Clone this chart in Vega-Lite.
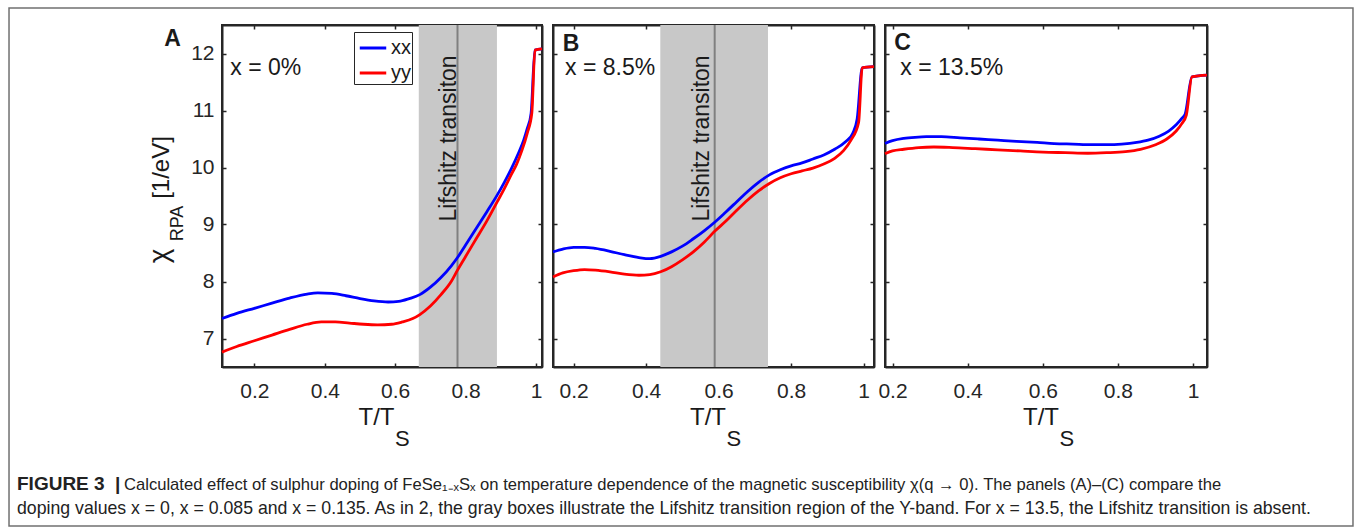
{
  "$schema": "https://vega.github.io/schema/vega-lite/v6.json",
  "background": "white",
  "padding": {"left": 7, "top": 6, "right": 0, "bottom": 0},
  "bounds": "flush",
  "spacing": 11,
  "config": {
    "font": "Liberation Sans",
    "view": {"stroke": "#262626", "strokeWidth": 2},
    "axis": {"grid": false, "domain": true, "domainColor": "#262626", "domainWidth": 2, "ticks": true, "tickSize": -4, "tickWidth": 1.5, "tickColor": "#262626", "labelFont": "Liberation Sans", "labelFontSize": 21, "labelColor": "#262626", "labelOverlap": false, "labelFlush": false, "zindex": 1},
    "text": {"font": "Liberation Sans", "color": "#1a1a1a"}
  },
  "datasets": {
    "A": [
      {"T": 0.108, "chi": 7.35, "comp": "xx"}, {"T": 0.15, "chi": 7.44, "comp": "xx"}, {"T": 0.2, "chi": 7.53, "comp": "xx"}, {"T": 0.25, "chi": 7.62, "comp": "xx"}, {"T": 0.3, "chi": 7.71, "comp": "xx"}, {"T": 0.35, "chi": 7.78, "comp": "xx"}, {"T": 0.38, "chi": 7.8, "comp": "xx"}, {"T": 0.42, "chi": 7.79, "comp": "xx"}, {"T": 0.46, "chi": 7.75, "comp": "xx"}, {"T": 0.5, "chi": 7.7, "comp": "xx"}, {"T": 0.54, "chi": 7.66, "comp": "xx"}, {"T": 0.58, "chi": 7.64, "comp": "xx"}, {"T": 0.61, "chi": 7.65, "comp": "xx"}, {"T": 0.64, "chi": 7.7, "comp": "xx"}, {"T": 0.67, "chi": 7.77, "comp": "xx"}, {"T": 0.7, "chi": 7.9, "comp": "xx"}, {"T": 0.73, "chi": 8.07, "comp": "xx"}, {"T": 0.76, "chi": 8.28, "comp": "xx"}, {"T": 0.777, "chi": 8.42, "comp": "xx"}, {"T": 0.8, "chi": 8.64, "comp": "xx"}, {"T": 0.83, "chi": 8.93, "comp": "xx"}, {"T": 0.86, "chi": 9.22, "comp": "xx"}, {"T": 0.89, "chi": 9.52, "comp": "xx"}, {"T": 0.91, "chi": 9.74, "comp": "xx"}, {"T": 0.93, "chi": 9.98, "comp": "xx"}, {"T": 0.95, "chi": 10.25, "comp": "xx"}, {"T": 0.965, "chi": 10.48, "comp": "xx"}, {"T": 0.975, "chi": 10.68, "comp": "xx"}, {"T": 0.986, "chi": 10.95, "comp": "xx"}, {"T": 0.997, "chi": 12.06, "comp": "xx"}, {"T": 1.017, "chi": 12.08, "comp": "xx"},
      {"T": 0.108, "chi": 6.76, "comp": "yy"}, {"T": 0.15, "chi": 6.86, "comp": "yy"}, {"T": 0.2, "chi": 6.96, "comp": "yy"}, {"T": 0.25, "chi": 7.06, "comp": "yy"}, {"T": 0.3, "chi": 7.16, "comp": "yy"}, {"T": 0.35, "chi": 7.25, "comp": "yy"}, {"T": 0.39, "chi": 7.29, "comp": "yy"}, {"T": 0.43, "chi": 7.29, "comp": "yy"}, {"T": 0.47, "chi": 7.27, "comp": "yy"}, {"T": 0.51, "chi": 7.25, "comp": "yy"}, {"T": 0.55, "chi": 7.24, "comp": "yy"}, {"T": 0.59, "chi": 7.25, "comp": "yy"}, {"T": 0.62, "chi": 7.29, "comp": "yy"}, {"T": 0.65, "chi": 7.35, "comp": "yy"}, {"T": 0.67, "chi": 7.42, "comp": "yy"}, {"T": 0.7, "chi": 7.57, "comp": "yy"}, {"T": 0.73, "chi": 7.77, "comp": "yy"}, {"T": 0.76, "chi": 8.01, "comp": "yy"}, {"T": 0.777, "chi": 8.2, "comp": "yy"}, {"T": 0.8, "chi": 8.44, "comp": "yy"}, {"T": 0.83, "chi": 8.75, "comp": "yy"}, {"T": 0.86, "chi": 9.06, "comp": "yy"}, {"T": 0.89, "chi": 9.4, "comp": "yy"}, {"T": 0.91, "chi": 9.63, "comp": "yy"}, {"T": 0.93, "chi": 9.88, "comp": "yy"}, {"T": 0.945, "chi": 10.06, "comp": "yy"}, {"T": 0.96, "chi": 10.3, "comp": "yy"}, {"T": 0.975, "chi": 10.6, "comp": "yy"}, {"T": 0.988, "chi": 10.95, "comp": "yy"}, {"T": 0.997, "chi": 12.06, "comp": "yy"}, {"T": 1.017, "chi": 12.08, "comp": "yy"}
    ],
    "B": [
      {"T": 0.143, "chi": 8.52, "comp": "xx"}, {"T": 0.17, "chi": 8.57, "comp": "xx"}, {"T": 0.2, "chi": 8.6, "comp": "xx"}, {"T": 0.23, "chi": 8.6, "comp": "xx"}, {"T": 0.26, "chi": 8.58, "comp": "xx"}, {"T": 0.3, "chi": 8.53, "comp": "xx"}, {"T": 0.34, "chi": 8.47, "comp": "xx"}, {"T": 0.38, "chi": 8.42, "comp": "xx"}, {"T": 0.41, "chi": 8.4, "comp": "xx"}, {"T": 0.44, "chi": 8.44, "comp": "xx"}, {"T": 0.47, "chi": 8.52, "comp": "xx"}, {"T": 0.5, "chi": 8.62, "comp": "xx"}, {"T": 0.53, "chi": 8.75, "comp": "xx"}, {"T": 0.56, "chi": 8.89, "comp": "xx"}, {"T": 0.589, "chi": 9.04, "comp": "xx"}, {"T": 0.62, "chi": 9.22, "comp": "xx"}, {"T": 0.65, "chi": 9.4, "comp": "xx"}, {"T": 0.68, "chi": 9.58, "comp": "xx"}, {"T": 0.71, "chi": 9.74, "comp": "xx"}, {"T": 0.74, "chi": 9.87, "comp": "xx"}, {"T": 0.77, "chi": 9.96, "comp": "xx"}, {"T": 0.8, "chi": 10.03, "comp": "xx"}, {"T": 0.83, "chi": 10.08, "comp": "xx"}, {"T": 0.86, "chi": 10.15, "comp": "xx"}, {"T": 0.89, "chi": 10.22, "comp": "xx"}, {"T": 0.92, "chi": 10.32, "comp": "xx"}, {"T": 0.95, "chi": 10.45, "comp": "xx"}, {"T": 0.97, "chi": 10.6, "comp": "xx"}, {"T": 0.982, "chi": 10.85, "comp": "xx"}, {"T": 0.996, "chi": 11.75, "comp": "xx"}, {"T": 1.0285, "chi": 11.77, "comp": "xx"},
      {"T": 0.143, "chi": 8.08, "comp": "yy"}, {"T": 0.17, "chi": 8.15, "comp": "yy"}, {"T": 0.2, "chi": 8.19, "comp": "yy"}, {"T": 0.23, "chi": 8.21, "comp": "yy"}, {"T": 0.26, "chi": 8.2, "comp": "yy"}, {"T": 0.3, "chi": 8.17, "comp": "yy"}, {"T": 0.34, "chi": 8.13, "comp": "yy"}, {"T": 0.38, "chi": 8.11, "comp": "yy"}, {"T": 0.41, "chi": 8.12, "comp": "yy"}, {"T": 0.44, "chi": 8.17, "comp": "yy"}, {"T": 0.47, "chi": 8.26, "comp": "yy"}, {"T": 0.5, "chi": 8.38, "comp": "yy"}, {"T": 0.53, "chi": 8.52, "comp": "yy"}, {"T": 0.56, "chi": 8.69, "comp": "yy"}, {"T": 0.589, "chi": 8.88, "comp": "yy"}, {"T": 0.62, "chi": 9.06, "comp": "yy"}, {"T": 0.65, "chi": 9.25, "comp": "yy"}, {"T": 0.68, "chi": 9.43, "comp": "yy"}, {"T": 0.71, "chi": 9.59, "comp": "yy"}, {"T": 0.74, "chi": 9.72, "comp": "yy"}, {"T": 0.77, "chi": 9.82, "comp": "yy"}, {"T": 0.8, "chi": 9.89, "comp": "yy"}, {"T": 0.83, "chi": 9.94, "comp": "yy"}, {"T": 0.86, "chi": 9.99, "comp": "yy"}, {"T": 0.89, "chi": 10.06, "comp": "yy"}, {"T": 0.92, "chi": 10.16, "comp": "yy"}, {"T": 0.945, "chi": 10.3, "comp": "yy"}, {"T": 0.965, "chi": 10.48, "comp": "yy"}, {"T": 0.986, "chi": 10.79, "comp": "yy"}, {"T": 0.996, "chi": 11.75, "comp": "yy"}, {"T": 1.0285, "chi": 11.77, "comp": "yy"}
    ],
    "C": [
      {"T": 0.18, "chi": 10.42, "comp": "xx"}, {"T": 0.2, "chi": 10.47, "comp": "xx"}, {"T": 0.23, "chi": 10.51, "comp": "xx"}, {"T": 0.26, "chi": 10.53, "comp": "xx"}, {"T": 0.29, "chi": 10.54, "comp": "xx"}, {"T": 0.33, "chi": 10.54, "comp": "xx"}, {"T": 0.38, "chi": 10.52, "comp": "xx"}, {"T": 0.43, "chi": 10.5, "comp": "xx"}, {"T": 0.48, "chi": 10.48, "comp": "xx"}, {"T": 0.53, "chi": 10.46, "comp": "xx"}, {"T": 0.585, "chi": 10.44, "comp": "xx"}, {"T": 0.63, "chi": 10.42, "comp": "xx"}, {"T": 0.68, "chi": 10.41, "comp": "xx"}, {"T": 0.73, "chi": 10.4, "comp": "xx"}, {"T": 0.77, "chi": 10.4, "comp": "xx"}, {"T": 0.81, "chi": 10.41, "comp": "xx"}, {"T": 0.85, "chi": 10.44, "comp": "xx"}, {"T": 0.88, "chi": 10.48, "comp": "xx"}, {"T": 0.91, "chi": 10.55, "comp": "xx"}, {"T": 0.935, "chi": 10.64, "comp": "xx"}, {"T": 0.955, "chi": 10.75, "comp": "xx"}, {"T": 0.97, "chi": 10.86, "comp": "xx"}, {"T": 0.979, "chi": 10.94, "comp": "xx"}, {"T": 0.997, "chi": 11.59, "comp": "xx"}, {"T": 1.037, "chi": 11.62, "comp": "xx"},
      {"T": 0.18, "chi": 10.24, "comp": "yy"}, {"T": 0.2, "chi": 10.29, "comp": "yy"}, {"T": 0.23, "chi": 10.32, "comp": "yy"}, {"T": 0.27, "chi": 10.35, "comp": "yy"}, {"T": 0.31, "chi": 10.36, "comp": "yy"}, {"T": 0.36, "chi": 10.35, "comp": "yy"}, {"T": 0.42, "chi": 10.33, "comp": "yy"}, {"T": 0.48, "chi": 10.31, "comp": "yy"}, {"T": 0.54, "chi": 10.29, "comp": "yy"}, {"T": 0.6, "chi": 10.27, "comp": "yy"}, {"T": 0.66, "chi": 10.26, "comp": "yy"}, {"T": 0.72, "chi": 10.25, "comp": "yy"}, {"T": 0.77, "chi": 10.26, "comp": "yy"}, {"T": 0.82, "chi": 10.28, "comp": "yy"}, {"T": 0.86, "chi": 10.32, "comp": "yy"}, {"T": 0.9, "chi": 10.4, "comp": "yy"}, {"T": 0.93, "chi": 10.5, "comp": "yy"}, {"T": 0.955, "chi": 10.64, "comp": "yy"}, {"T": 0.97, "chi": 10.77, "comp": "yy"}, {"T": 0.982, "chi": 10.92, "comp": "yy"}, {"T": 0.997, "chi": 11.59, "comp": "yy"}, {"T": 1.037, "chi": 11.62, "comp": "yy"}
    ]
  },
  "resolve": {"scale": {"color": "independent"}, "legend": {"color": "independent"}},
  "hconcat": [
    {
      "width": 320, "height": 342,
      "data": {"name": "A"},
      "resolve": {"axis": {"x": "independent", "y": "independent"}},
      "layer": [
        {"data": {"values": [{}]}, "mark": {"type": "rect", "color": "#c8c8c8"}, "encoding": {"x": {"datum": 0.667, "type": "quantitative", "axis": null}, "x2": {"datum": 0.889}}},
        {"data": {"values": [{}]}, "mark": {"type": "rule", "color": "#808080", "strokeWidth": 2}, "encoding": {"x": {"datum": 0.777, "type": "quantitative", "axis": null}}},
        {"mark": {"type": "line", "strokeWidth": 2.8, "interpolate": "monotone"},
         "encoding": {
           "x": {"field": "T", "type": "quantitative", "scale": {"domain": [0.108, 1.017], "nice": false, "zero": false}, "axis": {"orient": "bottom", "values": [0.2, 0.4, 0.6, 0.8, 1], "format": "~g", "title": null, "labelPadding": 17}},
           "y": {"field": "chi", "type": "quantitative", "scale": {"domain": [6.5, 12.5], "nice": false, "zero": false}, "axis": {"orient": "left", "values": [7, 8, 9, 10, 11, 12], "title": null, "labelPadding": 12}},
           "color": {"field": "comp", "type": "nominal", "scale": {"domain": ["xx", "yy"], "range": ["#0000ff", "#ff0000"]},
             "legend": {"orient": "none", "legendX": 132, "legendY": 7, "title": null, "symbolType": "stroke", "symbolStrokeWidth": 3, "symbolSize": 700, "labelFontSize": 20, "labelFont": "Liberation Sans", "labelColor": "#1a1a1a", "strokeColor": "#262626", "fillColor": "white", "padding": 1, "rowPadding": 0, "labelOffset": 3, "symbolOffset": 3}}
         }},
        {"mark": {"type": "point", "opacity": 0},
         "encoding": {
           "x": {"field": "T", "type": "quantitative", "axis": {"orient": "top", "values": [0.2, 0.4, 0.6, 0.8, 1], "labels": false, "title": null}},
           "y": {"field": "chi", "type": "quantitative", "axis": {"orient": "right", "values": [7, 8, 9, 10, 11, 12], "labels": false, "title": null}}
         }},
        {"data": {"values": [{}]}, "mark": {"type": "text", "text": "Lifshitz transiton", "angle": 270, "align": "center", "baseline": "alphabetic", "fontSize": 23}, "encoding": {"x": {"datum": 0.7713, "type": "quantitative", "axis": null}, "y": {"datum": 10.509, "type": "quantitative", "axis": null}}},
        {"data": {"values": [{}]}, "mark": {"type": "text", "text": "A", "align": "left", "baseline": "alphabetic", "fontSize": 23, "fontWeight": "bold"}, "encoding": {"x": {"datum": -0.0559, "type": "quantitative", "axis": null}, "y": {"datum": 12.132, "type": "quantitative", "axis": null}}},
        {"data": {"values": [{}]}, "mark": {"type": "text", "text": "x = 0%", "align": "left", "baseline": "alphabetic", "fontSize": 23}, "encoding": {"x": {"datum": 0.1316, "type": "quantitative", "axis": null}, "y": {"datum": 11.618, "type": "quantitative", "axis": null}}},
        {"data": {"values": [{}]}, "mark": {"type": "text", "text": "T/T", "align": "right", "baseline": "alphabetic", "fontSize": 24}, "encoding": {"x": {"datum": 0.598, "type": "quantitative", "axis": null}, "y": {"datum": 5.4772, "type": "quantitative", "axis": null}}},
        {"data": {"values": [{}]}, "mark": {"type": "text", "text": "S", "align": "left", "baseline": "alphabetic", "fontSize": 22}, "encoding": {"x": {"datum": 0.5994, "type": "quantitative", "axis": null}, "y": {"datum": 5.114, "type": "quantitative", "axis": null}}},
        {"data": {"values": [{}]}, "mark": {"type": "text", "text": "χ", "angle": 270, "align": "center", "baseline": "alphabetic", "fontSize": 28}, "encoding": {"x": {"datum": -0.0454, "type": "quantitative", "axis": null}, "y": {"datum": 8.4474, "type": "quantitative", "axis": null}}},
        {"data": {"values": [{}]}, "mark": {"type": "text", "text": "RPA", "angle": 270, "align": "center", "baseline": "alphabetic", "fontSize": 18}, "encoding": {"x": {"datum": -0.0028, "type": "quantitative", "axis": null}, "y": {"datum": 9.0175, "type": "quantitative", "axis": null}}},
        {"data": {"values": [{}]}, "mark": {"type": "text", "text": "[1/eV]", "angle": 270, "align": "center", "baseline": "alphabetic", "fontSize": 24}, "encoding": {"x": {"datum": -0.0425, "type": "quantitative", "axis": null}, "y": {"datum": 10.0, "type": "quantitative", "axis": null}}},
        {"data": {"values": [{}]}, "mark": {"type": "text", "text": "FIGURE 3", "align": "left", "baseline": "alphabetic", "fontSize": 19, "fontWeight": "bold", "color": "#222222"}, "encoding": {"x": {"datum": -0.4743, "type": "quantitative", "axis": null}, "y": {"datum": 4.3421, "type": "quantitative", "axis": null}}},
        {"data": {"values": [{}]}, "mark": {"type": "text", "text": "|", "align": "left", "baseline": "alphabetic", "fontSize": 19, "fontWeight": "bold", "color": "#222222"}, "encoding": {"x": {"datum": -0.1959, "type": "quantitative", "axis": null}, "y": {"datum": 4.3421, "type": "quantitative", "axis": null}}},
        {"data": {"values": [{}]}, "mark": {"type": "text", "text": "Calculated effect of sulphur doping of FeSe₁₋ₓSₓ on temperature dependence of the magnetic susceptibility χ(q → 0). The panels (A)–(C) compare the", "align": "left", "baseline": "alphabetic", "fontSize": 16.6, "color": "#222222"}, "encoding": {"x": {"datum": -0.1704, "type": "quantitative", "axis": null}, "y": {"datum": 4.3421, "type": "quantitative", "axis": null}}},
        {"data": {"values": [{}]}, "mark": {"type": "text", "text": "doping values x = 0, x = 0.085 and x = 0.135. As in 2, the gray boxes illustrate the Lifshitz transition region of the Y-band. For x = 13.5, the Lifshitz transition is absent.", "align": "left", "baseline": "alphabetic", "fontSize": 17.7, "color": "#222222"}, "encoding": {"x": {"datum": -0.4743, "type": "quantitative", "axis": null}, "y": {"datum": 3.9211, "type": "quantitative", "axis": null}}},
        {"data": {"values": [{}]}, "mark": {"type": "rect", "fillOpacity": 0, "stroke": "#707070", "strokeWidth": 1.5}, "encoding": {"x": {"datum": -0.497, "type": "quantitative", "axis": null}, "x2": {"datum": 3.3207}, "y": {"datum": 12.798, "type": "quantitative", "axis": null}, "y2": {"datum": 3.71}}}
      ]
    },
    {
      "width": 321, "height": 342,
      "data": {"name": "B"},
      "resolve": {"axis": {"x": "independent", "y": "independent"}},
      "layer": [
        {"data": {"values": [{}]}, "mark": {"type": "rect", "color": "#c8c8c8"}, "encoding": {"x": {"datum": 0.439, "type": "quantitative", "axis": null}, "x2": {"datum": 0.736}}},
        {"data": {"values": [{}]}, "mark": {"type": "rule", "color": "#808080", "strokeWidth": 2}, "encoding": {"x": {"datum": 0.589, "type": "quantitative", "axis": null}}},
        {"mark": {"type": "line", "strokeWidth": 2.8, "interpolate": "monotone"},
         "encoding": {
           "x": {"field": "T", "type": "quantitative", "scale": {"domain": [0.143, 1.0285], "nice": false, "zero": false}, "axis": {"orient": "bottom", "values": [0.2, 0.4, 0.6, 0.8, 1], "format": "~g", "title": null, "labelPadding": 17}},
           "y": {"field": "chi", "type": "quantitative", "scale": {"domain": [6.5, 12.5], "nice": false, "zero": false}, "axis": {"orient": "left", "values": [7, 8, 9, 10, 11, 12], "labels": false, "title": null}},
           "color": {"field": "comp", "type": "nominal", "scale": {"domain": ["xx", "yy"], "range": ["#0000ff", "#ff0000"]}, "legend": null}
         }},
        {"mark": {"type": "point", "opacity": 0},
         "encoding": {
           "x": {"field": "T", "type": "quantitative", "axis": {"orient": "top", "values": [0.2, 0.4, 0.6, 0.8, 1], "labels": false, "title": null}},
           "y": {"field": "chi", "type": "quantitative", "axis": {"orient": "right", "values": [7, 8, 9, 10, 11, 12], "labels": false, "title": null}}
         }},
        {"data": {"values": [{}]}, "mark": {"type": "text", "text": "Lifshitz transiton", "angle": 270, "align": "center", "baseline": "alphabetic", "fontSize": 23}, "encoding": {"x": {"datum": 0.5733, "type": "quantitative", "axis": null}, "y": {"datum": 10.509, "type": "quantitative", "axis": null}}},
        {"data": {"values": [{}]}, "mark": {"type": "text", "text": "B", "align": "left", "baseline": "alphabetic", "fontSize": 23, "fontWeight": "bold"}, "encoding": {"x": {"datum": 0.1698, "type": "quantitative", "axis": null}, "y": {"datum": 12.05, "type": "quantitative", "axis": null}}},
        {"data": {"values": [{}]}, "mark": {"type": "text", "text": "x = 8.5%", "align": "left", "baseline": "alphabetic", "fontSize": 23}, "encoding": {"x": {"datum": 0.1761, "type": "quantitative", "axis": null}, "y": {"datum": 11.618, "type": "quantitative", "axis": null}}},
        {"data": {"values": [{}]}, "mark": {"type": "text", "text": "T/T", "align": "right", "baseline": "alphabetic", "fontSize": 24}, "encoding": {"x": {"datum": 0.6202, "type": "quantitative", "axis": null}, "y": {"datum": 5.4772, "type": "quantitative", "axis": null}}},
        {"data": {"values": [{}]}, "mark": {"type": "text", "text": "S", "align": "left", "baseline": "alphabetic", "fontSize": 22}, "encoding": {"x": {"datum": 0.6216, "type": "quantitative", "axis": null}, "y": {"datum": 5.114, "type": "quantitative", "axis": null}}}
      ]
    },
    {
      "width": 322, "height": 342,
      "data": {"name": "C"},
      "resolve": {"axis": {"x": "independent", "y": "independent"}},
      "layer": [
        {"mark": {"type": "line", "strokeWidth": 2.8, "interpolate": "monotone"},
         "encoding": {
           "x": {"field": "T", "type": "quantitative", "scale": {"domain": [0.18, 1.037], "nice": false, "zero": false}, "axis": {"orient": "bottom", "values": [0.2, 0.4, 0.6, 0.8, 1], "format": "~g", "title": null, "labelPadding": 17}},
           "y": {"field": "chi", "type": "quantitative", "scale": {"domain": [6.5, 12.5], "nice": false, "zero": false}, "axis": {"orient": "left", "values": [7, 8, 9, 10, 11, 12], "labels": false, "title": null}},
           "color": {"field": "comp", "type": "nominal", "scale": {"domain": ["xx", "yy"], "range": ["#0000ff", "#ff0000"]}, "legend": null}
         }},
        {"mark": {"type": "point", "opacity": 0},
         "encoding": {
           "x": {"field": "T", "type": "quantitative", "axis": {"orient": "top", "values": [0.2, 0.4, 0.6, 0.8, 1], "labels": false, "title": null}},
           "y": {"field": "chi", "type": "quantitative", "axis": {"orient": "right", "values": [7, 8, 9, 10, 11, 12], "labels": false, "title": null}}
         }},
        {"data": {"values": [{}]}, "mark": {"type": "text", "text": "C", "align": "left", "baseline": "alphabetic", "fontSize": 23, "fontWeight": "bold"}, "encoding": {"x": {"datum": 0.2048, "type": "quantitative", "axis": null}, "y": {"datum": 12.056, "type": "quantitative", "axis": null}}},
        {"data": {"values": [{}]}, "mark": {"type": "text", "text": "x = 13.5%", "align": "left", "baseline": "alphabetic", "fontSize": 23}, "encoding": {"x": {"datum": 0.2207, "type": "quantitative", "axis": null}, "y": {"datum": 11.618, "type": "quantitative", "axis": null}}},
        {"data": {"values": [{}]}, "mark": {"type": "text", "text": "T/T", "align": "right", "baseline": "alphabetic", "fontSize": 24}, "encoding": {"x": {"datum": 0.6431, "type": "quantitative", "axis": null}, "y": {"datum": 5.4772, "type": "quantitative", "axis": null}}},
        {"data": {"values": [{}]}, "mark": {"type": "text", "text": "S", "align": "left", "baseline": "alphabetic", "fontSize": 22}, "encoding": {"x": {"datum": 0.6444, "type": "quantitative", "axis": null}, "y": {"datum": 5.114, "type": "quantitative", "axis": null}}}
      ]
    }
  ]
}
